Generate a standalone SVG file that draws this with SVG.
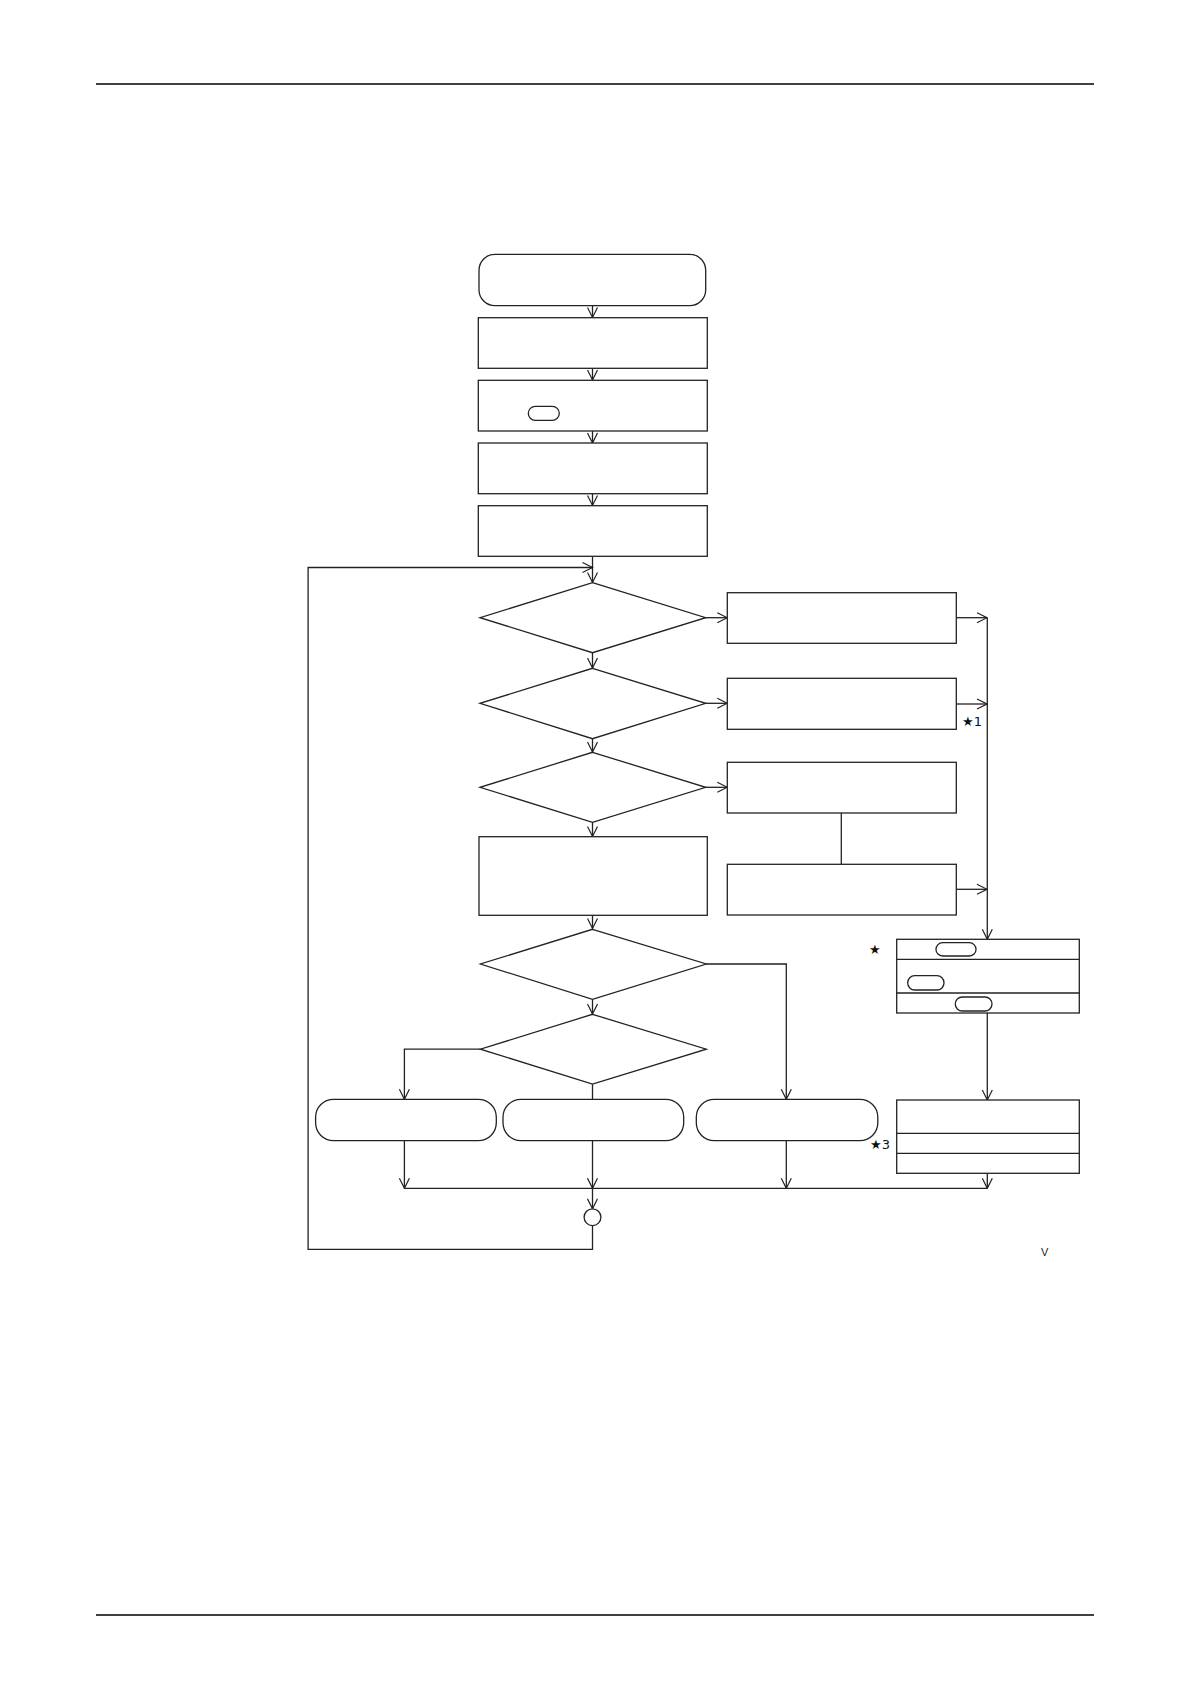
<svg xmlns="http://www.w3.org/2000/svg" width="1190" height="1684" viewBox="0 0 1190 1684">
<style>
.s{fill:#fff;stroke:#222;stroke-width:1.3}
.c{fill:none;stroke:#222;stroke-width:1.3}
.t{font-family:"DejaVu Sans","Liberation Sans",sans-serif;font-size:13px;fill:#111}
.v{font-family:"Liberation Sans",sans-serif;font-size:11px;fill:#222}
</style>
<defs>
<marker id="a" viewBox="-11 -6 12 12" refX="0" refY="0" markerWidth="12" markerHeight="12" markerUnits="userSpaceOnUse" orient="auto">
<path d="M-10,-5 L0,0 L-10,5" fill="none" stroke="#222" stroke-width="1.2"/>
</marker>
</defs>
<rect width="1190" height="1684" fill="#fff"/>
<line x1="96" y1="84" x2="1094" y2="84" stroke="#000" stroke-width="1.5"/>
<line x1="96" y1="1615" x2="1094" y2="1615" stroke="#000" stroke-width="1.5"/>

<g id="connectors">
<line class="c" x1="592.5" y1="306" x2="592.5" y2="317.5" marker-end="url(#a)"/>
<line class="c" x1="592.5" y1="368.5" x2="592.5" y2="380" marker-end="url(#a)"/>
<line class="c" x1="592.5" y1="431" x2="592.5" y2="443" marker-end="url(#a)"/>
<line class="c" x1="592.5" y1="494" x2="592.5" y2="505.5" marker-end="url(#a)"/>
<line class="c" x1="592.5" y1="556.5" x2="592.5" y2="582.5" marker-end="url(#a)"/>
<line class="c" x1="592.5" y1="653" x2="592.5" y2="668" marker-end="url(#a)"/>
<line class="c" x1="592.5" y1="739" x2="592.5" y2="752" marker-end="url(#a)"/>
<line class="c" x1="592.5" y1="822.5" x2="592.5" y2="836.5" marker-end="url(#a)"/>
<line class="c" x1="592.5" y1="915.5" x2="592.5" y2="928.5" marker-end="url(#a)"/>
<line class="c" x1="592.5" y1="999.5" x2="592.5" y2="1014" marker-end="url(#a)"/>
<line class="c" x1="592.5" y1="1084.3" x2="592.5" y2="1099.3"/>
<line class="c" x1="705.5" y1="617.7" x2="727.3" y2="617.7" marker-end="url(#a)"/>
<line class="c" x1="705.5" y1="703.3" x2="727.3" y2="703.3" marker-end="url(#a)"/>
<line class="c" x1="705.5" y1="787.3" x2="727.3" y2="787.3" marker-end="url(#a)"/>
<line class="c" x1="956.3" y1="617.7" x2="987" y2="617.7" marker-end="url(#a)"/>
<line class="c" x1="956.3" y1="704" x2="987" y2="704" marker-end="url(#a)"/>
<line class="c" x1="956.3" y1="889.3" x2="987" y2="889.3" marker-end="url(#a)"/>
<line class="c" x1="841.3" y1="813" x2="841.3" y2="864.3"/>
<line class="c" x1="987.3" y1="617.7" x2="987.3" y2="939.3" marker-end="url(#a)"/>
<line class="c" x1="987.3" y1="1013" x2="987.3" y2="1100" marker-end="url(#a)"/>
<polyline class="c" points="706.3,964 786.3,964 786.3,1099.3" marker-end="url(#a)"/>
<polyline class="c" points="480.4,1049.2 404.4,1049.2 404.4,1099.3" marker-end="url(#a)"/>
<line class="c" x1="404.4" y1="1140.7" x2="404.4" y2="1188.3" marker-end="url(#a)"/>
<line class="c" x1="592.5" y1="1140.7" x2="592.5" y2="1188.3" marker-end="url(#a)"/>
<line class="c" x1="786.3" y1="1140.7" x2="786.3" y2="1188.3" marker-end="url(#a)"/>
<line class="c" x1="987.3" y1="1173.3" x2="987.3" y2="1188.3" marker-end="url(#a)"/>
<line class="c" x1="404.4" y1="1188.3" x2="987.3" y2="1188.3"/>
<line class="c" x1="592.5" y1="1188.3" x2="592.5" y2="1208.8" marker-end="url(#a)"/>
<polyline class="c" points="592.5,1225.6 592.5,1249.3 308.1,1249.3 308.1,567.5 592.5,567.5" marker-end="url(#a)"/>
</g>

<g id="start"><rect class="s" x="479" y="254.3" width="226.7" height="51.4" rx="16"/></g>
<g id="box1"><rect class="s" x="478.3" y="317.7" width="229" height="50.6"/></g>
<g id="box2"><rect class="s" x="478.3" y="380.3" width="229" height="50.7"/><rect class="s" x="528.3" y="406.3" width="31" height="14" rx="7"/></g>
<g id="box3"><rect class="s" x="478.3" y="443" width="229" height="50.7"/></g>
<g id="box4"><rect class="s" x="478.3" y="505.7" width="229" height="50.6"/></g>
<g id="dec1"><polygon class="s" points="592.5,582.7 705.7,617.7 592.5,652.7 480,617.7"/></g>
<g id="dec2"><polygon class="s" points="592.5,668.3 705.7,703.3 592.5,738.7 480,703.3"/></g>
<g id="dec3"><polygon class="s" points="592.5,752.3 705.7,787.3 592.5,822.3 480,787.3"/></g>
<g id="box5"><rect class="s" x="479" y="836.7" width="228.3" height="78.6"/></g>
<g id="rbox1"><rect class="s" x="727.3" y="592.7" width="229" height="50.6"/></g>
<g id="rbox2"><rect class="s" x="727.3" y="678.3" width="229" height="51"/><text class="t" x="962" y="726">★1</text></g>
<g id="rbox3"><rect class="s" x="727.3" y="762.3" width="229" height="50.7"/></g>
<g id="rbox4"><rect class="s" x="727.3" y="864.3" width="229" height="50.7"/></g>
<g id="dec4"><polygon class="s" points="592.5,929.3 706.3,964 592.5,999.3 480.4,964"/></g>
<g id="dec5"><polygon class="s" points="592.5,1014.3 706.3,1049.2 592.5,1084 480.4,1049.2"/></g>
<g id="end1"><rect class="s" x="315.6" y="1099.3" width="180.7" height="41.4" rx="18"/></g>
<g id="end2"><rect class="s" x="503" y="1099.3" width="180.7" height="41.4" rx="18"/></g>
<g id="end3"><rect class="s" x="696.3" y="1099.3" width="181.5" height="41.4" rx="18"/><text class="t" x="870" y="1149">★3</text></g>
<g id="starbox">
<rect class="s" x="896.7" y="939.3" width="182.6" height="73.7"/>
<line class="c" x1="896.7" y1="959.3" x2="1079.3" y2="959.3"/>
<line class="c" x1="896.7" y1="993" x2="1079.3" y2="993"/>
<rect class="s" x="936" y="942.7" width="40" height="13.3" rx="6.6"/>
<rect class="s" x="907.7" y="975.7" width="36.3" height="14.3" rx="7"/>
<rect class="s" x="955.3" y="997" width="36.7" height="14" rx="7"/>
<text class="t" x="869" y="954">★</text>
</g>
<g id="resultbox">
<rect class="s" x="896.7" y="1100" width="182.6" height="73.3"/>
<line class="c" x1="896.7" y1="1133.3" x2="1079.3" y2="1133.3"/>
<line class="c" x1="896.7" y1="1153.3" x2="1079.3" y2="1153.3"/>
</g>
<g id="merge"><circle class="s" cx="592.5" cy="1217.2" r="8.4"/></g>
<text class="v" x="1041" y="1256">V</text>
</svg>
